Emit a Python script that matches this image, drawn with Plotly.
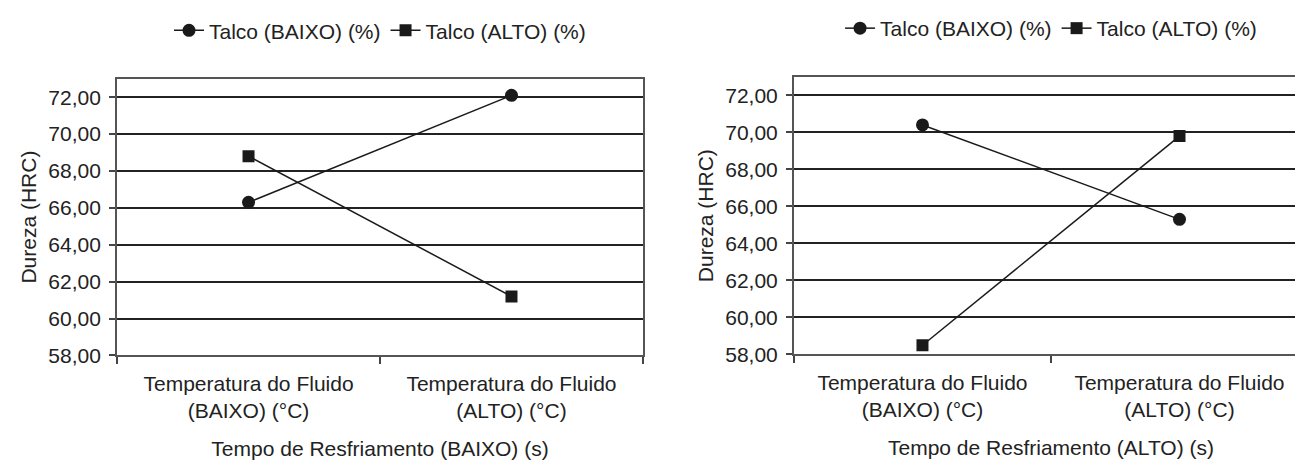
import plotly.graph_objects as go

categories = ["Temperatura do Fluido<br>(BAIXO) (°C)", "Temperatura do Fluido<br>(ALTO) (°C)"]
series_names = ["Talco (BAIXO) (%)", "Talco (ALTO) (%)"]

left_baixo = [66.3, 72.1]
left_alto = [68.8, 61.2]
right_baixo = [70.4, 65.3]
right_alto = [58.5, 69.8]

x_titles = ["Tempo de Resfriamento (BAIXO) (s)", "Tempo de Resfriamento (ALTO) (s)"]
y_title = "Dureza (HRC)"
y_ticks = [58, 60, 62, 64, 66, 68, 70, 72]

FONT = "Liberation Sans, Arial, sans-serif"
FS = 21
LINE = "#1a1a1a"
TXT = "#222"

fig = go.Figure()

def add_pair(baixo, alto, xa, ya, legend):
    fig.add_trace(go.Scatter(x=categories, y=baixo, name=series_names[0], mode="lines+markers",
                             line=dict(color=LINE, width=1.5),
                             marker=dict(symbol="circle", size=13, color=LINE),
                             xaxis=xa, yaxis=ya, legend=legend))
    fig.add_trace(go.Scatter(x=categories, y=alto, name=series_names[1], mode="lines+markers",
                             line=dict(color=LINE, width=1.5),
                             marker=dict(symbol="square", size=12, color=LINE),
                             xaxis=xa, yaxis=ya, legend=legend))

add_pair(left_baixo, left_alto, "x", "y", "legend")
add_pair(right_baixo, right_alto, "x2", "y2", "legend2")

xcommon = dict(type="category", showline=True, mirror=True, linecolor="#555", linewidth=2,
               ticks="outside", tickson="boundaries", ticklen=7, tickcolor="#444", tickwidth=1.5,
               showgrid=False, tickfont=dict(family=FONT, size=FS, color=TXT),
               ticklabelstandoff=8, range=[-0.5, 1.5])
ycommon = dict(range=[58, 73], tickvals=y_ticks, tickformat=".2f", showline=True, mirror=True,
               linecolor="#555", linewidth=2, ticks="outside", ticklen=6, tickcolor="#444",
               tickwidth=1.5, showgrid=True, gridcolor="#222", gridwidth=1.6, zeroline=False,
               ticklabelstandoff=4,
               tickfont=dict(family=FONT, size=FS, color=TXT))

fig.update_layout(
    width=1303, height=460,
    margin=dict(l=0, r=0, t=0, b=0),
    paper_bgcolor="white", plot_bgcolor="white",
    separators=",.",
    font=dict(family=FONT, size=FS, color=TXT),
    xaxis=dict(domain=[0.0837, 0.4873], anchor="y",
               title=dict(text=x_titles[0], font=dict(family=FONT, size=FS), standoff=20),
               **xcommon),
    yaxis=dict(domain=[0.2283, 0.85], anchor="x",
               title=dict(text=y_title, font=dict(family=FONT, size=FS), standoff=6),
               **ycommon),
    xaxis2=dict(domain=[0.6032, 0.9977], anchor="y2",
                title=dict(text=x_titles[1], font=dict(family=FONT, size=FS), standoff=20),
                **xcommon),
    yaxis2=dict(domain=[0.2304, 0.8543], anchor="x2",
                title=dict(text=y_title, font=dict(family=FONT, size=FS), standoff=6),
                **ycommon),
    legend=dict(orientation="h", x=0.2855, xanchor="center", y=0.958, yanchor="middle",
                font=dict(family=FONT, size=FS, color=TXT), itemwidth=30,
                bgcolor="rgba(0,0,0,0)"),
    legend2=dict(orientation="h", x=0.8005, xanchor="center", y=0.963, yanchor="middle",
                 font=dict(family=FONT, size=FS, color=TXT), itemwidth=30,
                 bgcolor="rgba(0,0,0,0)"),
    showlegend=True,
)

fig.write_html("out.html")
